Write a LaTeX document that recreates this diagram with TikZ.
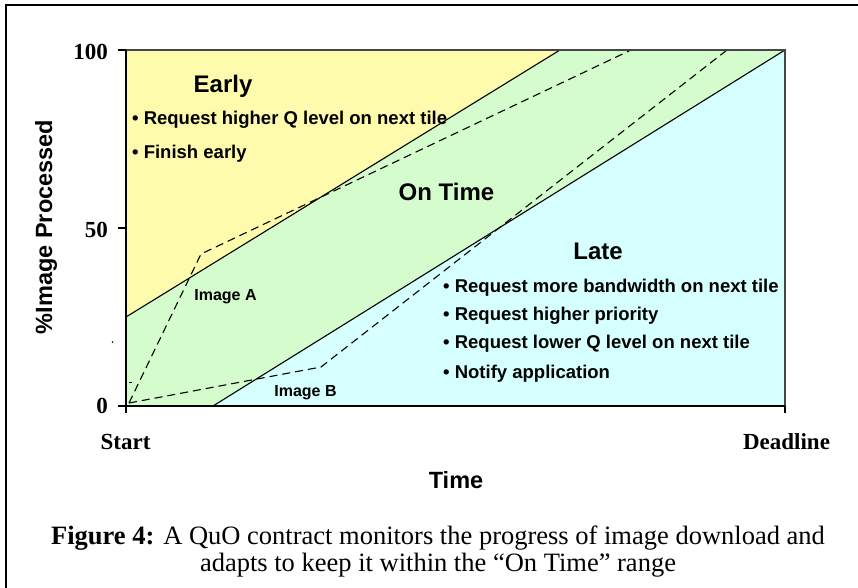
\documentclass[tikz,border=0pt]{standalone}
\usepackage{fontspec}
\setmainfont{Liberation Serif}
\setsansfont{Liberation Sans}
\definecolor{earlyfill}{RGB}{255,251,172}
\definecolor{ontimefill}{RGB}{212,252,204}
\definecolor{latefill}{RGB}{214,255,255}
\definecolor{boxedge}{RGB}{70,70,70}
\begin{document}
\begin{tikzpicture}[x=1pt,y=-1pt,
  bullettext/.style={font=\sffamily\bfseries\fontsize{18.5}{22}\selectfont, anchor=base west, inner sep=0pt},
  zonehead/.style={font=\sffamily\bfseries\fontsize{24}{28}\selectfont, anchor=base, inner sep=0pt},
  imglabel/.style={font=\sffamily\bfseries\fontsize{16}{19}\selectfont, anchor=base, inner sep=0pt},
  axisnum/.style={font=\rmfamily\bfseries\fontsize{23}{27}\selectfont, anchor=base east, inner sep=0pt},
  axisend/.style={font=\rmfamily\bfseries\fontsize{23}{27}\selectfont, anchor=base, inner sep=0pt},
  axistitle/.style={font=\sffamily\bfseries\fontsize{23.5}{28}\selectfont, inner sep=0pt},
  captionline/.style={font=\rmfamily\fontsize{26.5}{30}\selectfont, anchor=base, inner sep=0pt},
  bound/.style={line width=1.1pt},
  trace/.style={line width=1.1pt, dash pattern=on 8pt off 5pt},
  tickline/.style={line width=1.1pt}]
\useasboundingbox (0,0) rectangle (858,588);
\begin{scope}
\clip (0,0) rectangle (858,588);
\draw[line width=2pt] (6,600) -- (6,5) -- (870,5);
\end{scope}

% corner points of the chart area
\coordinate (tl) at (126,50);
\coordinate (tr) at (785,50);
\coordinate (bl) at (126,406);
\coordinate (br) at (785,406);
\coordinate (earlyL) at (126,317);
\coordinate (earlyT) at (560,50);
\coordinate (lateB) at (213,406);

% zones
\fill[earlyfill] (tl) -- (earlyT) -- (earlyL) -- cycle;
\fill[ontimefill] (earlyT) -- (tr) -- (lateB) -- (bl) -- (earlyL) -- cycle;
\fill[latefill] (tr) -- (br) -- (lateB) -- cycle;

% zone boundaries
\draw[bound] (earlyL) -- (earlyT);
\draw[bound] (lateB) -- (tr);

% progress traces
\coordinate (origin) at (129,403);
\coordinate (aKnee) at (201,254);
\coordinate (aEnd) at (631,50);
\coordinate (bKnee) at (321,367);
\coordinate (bEnd) at (727,50);
\draw[trace] (origin) -- (aKnee) -- (aEnd);
\draw[trace] (origin) -- (bKnee) -- (bEnd);
\draw[line width=0.8pt] (129,382) -- (132,382);
\fill (112.5,342) circle (0.8pt);

% chart frame and axes
\draw[line width=1.5pt, boxedge] (tl) -- (tr) -- (br);
\draw[line width=1.3pt] (tl) -- (bl) -- (br);
\draw[tickline] (118,50) -- (tl);
\draw[tickline] (118,228) -- (126,228);
\draw[tickline] (118,406) -- (bl);
\draw[tickline] (bl) -- (126,413);
\draw[tickline] (br) -- (785,413);

% axis labels
\node[axisnum] (n100) at (108,60) {100};
\node[axisnum] (n50) at (108,237) {50};
\node[axisnum] (n0) at (108,413) {0};
\node[axisend] (start) at (125.5,449) {Start};
\node[axisend] (deadline) at (786.5,449) {Deadline};
\node[axistitle, anchor=base] (timelbl) at (456,488) {Time};
\node[axistitle, rotate=90] (ylbl) at (46,227) {\%Image Processed};

% zone texts
\node[zonehead] (early) at (223,93) {Early};
\node[bullettext] (e1) at (132,125) {• Request higher Q level on next tile};
\node[bullettext] (e2) at (132,158) {• Finish early};
\node[zonehead] (ontime) at (446.5,200) {On Time};
\node[zonehead] (late) at (598,259) {Late};
\node[bullettext] (l1) at (443,292) {• Request more bandwidth on next tile};
\node[bullettext] (l2) at (443,320) {• Request higher priority};
\node[bullettext] (l3) at (443,348) {• Request lower Q level on next tile};
\node[bullettext] (l4) at (443,378) {• Notify application};
\node[imglabel] (imgA) at (225.5,300) {Image A};
\node[imglabel] (imgB) at (305.5,396) {Image B};

% caption
\node[captionline] (cap1) at (438,544) {\textbf{Figure 4:} A QuO contract monitors the progress of image download and};
\node[captionline] (cap2) at (438,571) {adapts to keep it within the “On Time” range};
\end{tikzpicture}
\end{document}
